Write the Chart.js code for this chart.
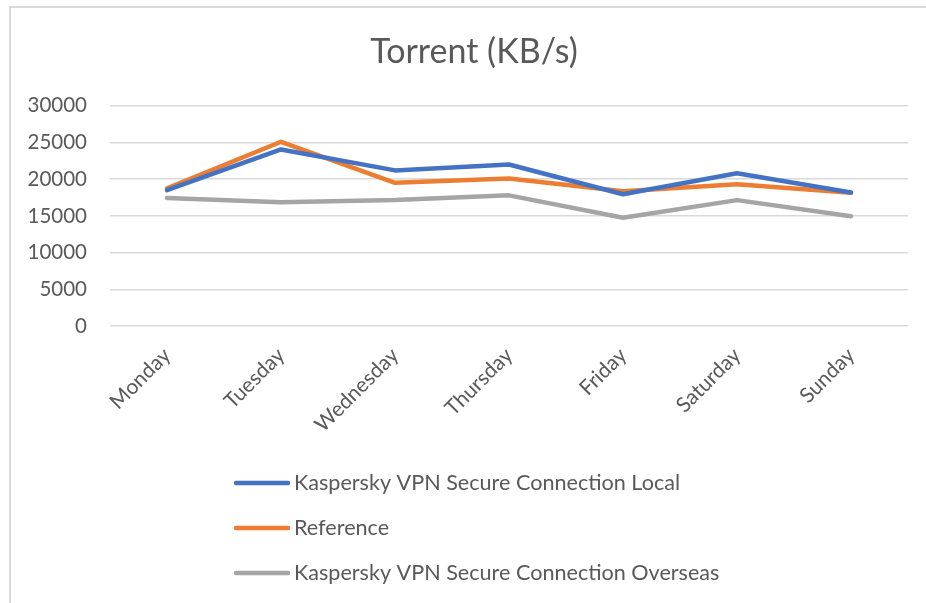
<!DOCTYPE html>
<html>
<head>
<meta charset="utf-8">
<script src="https://cdn.jsdelivr.net/npm/chart.js"></script>
<style>
  html, body { margin: 0; padding: 0; background: #fff; overflow: hidden; }
  #wrap { position: relative; width: 926px; height: 603px; overflow: hidden; }
  #frame { position: absolute; left: 9px; top: 6px; width: 1000px; height: 1000px; border: 2px solid #d9d9d9; }
  #myChart { position: absolute; left: 0; top: 0; }
</style>
</head>
<body>
<div id="wrap">
  <div id="frame"></div>
  <canvas id="myChart" width="926" height="603"></canvas>
</div>
<script>
const days = ['Monday', 'Tuesday', 'Wednesday', 'Thursday', 'Friday', 'Saturday', 'Sunday'];
const local = [18500, 24050, 21200, 22000, 17950, 20800, 18200];
const reference = [18750, 25100, 19500, 20100, 18350, 19300, 18150];
const overseas = [17450, 16850, 17150, 17800, 14750, 17150, 14950];

const font = 'Lato';
const grey = '#595959';

// legend drawn as a list, one entry per line, like the Excel original
const listLegend = {
    id: 'listLegend',
    afterLayout(chart) {
        // title sits a little right of the canvas centre in the original
        chart.titleBlock.left += 40;
    },
    afterDraw(chart) {
        const c = chart.ctx;
        const x = 234, top = 483, gap = 45;
        chart.data.datasets.forEach((ds, i) => {
            const y = top + i * gap;
            c.save();
            c.strokeStyle = ds.borderColor;
            c.lineWidth = 4.5;
            c.lineCap = 'round';
            c.beginPath();
            c.moveTo(x + 2, y);
            c.lineTo(x + 54, y);
            c.stroke();
            c.fillStyle = grey;
            c.font = '21.6px ' + font;
            c.textBaseline = 'middle';
            c.fillText(ds.label, x + 60, y);
            c.restore();
        });
    }
};

new Chart(document.getElementById('myChart'), {
    type: 'line',
    data: {
        labels: days,
        datasets: [{
            label: 'Kaspersky VPN Secure Connection Local',
            data: local,
            borderColor: '#4472C4'
        }, {
            label: 'Reference',
            data: reference,
            borderColor: '#ED7D31'
        }, {
            label: 'Kaspersky VPN Secure Connection Overseas',
            data: overseas,
            borderColor: '#A5A5A5'
        }]
    },
    options: {
        responsive: false,
        animation: false,
        elements: {
            line: { borderWidth: 4.5, borderCapStyle: 'round', borderJoinStyle: 'round', tension: 0 },
            point: { radius: 0, hoverRadius: 0 }
        },
        layout: { padding: { top: 0, left: 0, right: 18, bottom: 157 } },
        plugins: {
            legend: { display: false },
            tooltip: { enabled: false },
            title: {
                display: true,
                text: 'Torrent (KB/s)',
                color: grey,
                font: { family: font, size: 34, weight: 'normal' },
                padding: { top: 32, bottom: 33 }
            }
        },
        scales: {
            x: {
                offset: true,
                grid: { display: false },
                border: { display: false },
                ticks: {
                    minRotation: 45,
                    maxRotation: 45,
                    padding: 9,
                    color: grey,
                    font: { family: font, size: 21 }
                },
                afterFit: s => { s.height = 120; }
            },
            y: {
                min: 0,
                max: 30000,
                border: { display: false },
                grid: { color: '#d9d9d9', lineWidth: 1.5, drawTicks: false },
                ticks: {
                    stepSize: 5000,
                    padding: 23,
                    color: grey,
                    font: { family: font, size: 20.5 },
                    callback: v => String(v)
                },
                afterFit: s => { s.width = 110; }
            }
        }
    },
    plugins: [listLegend]
});
</script>
</body>
</html>
